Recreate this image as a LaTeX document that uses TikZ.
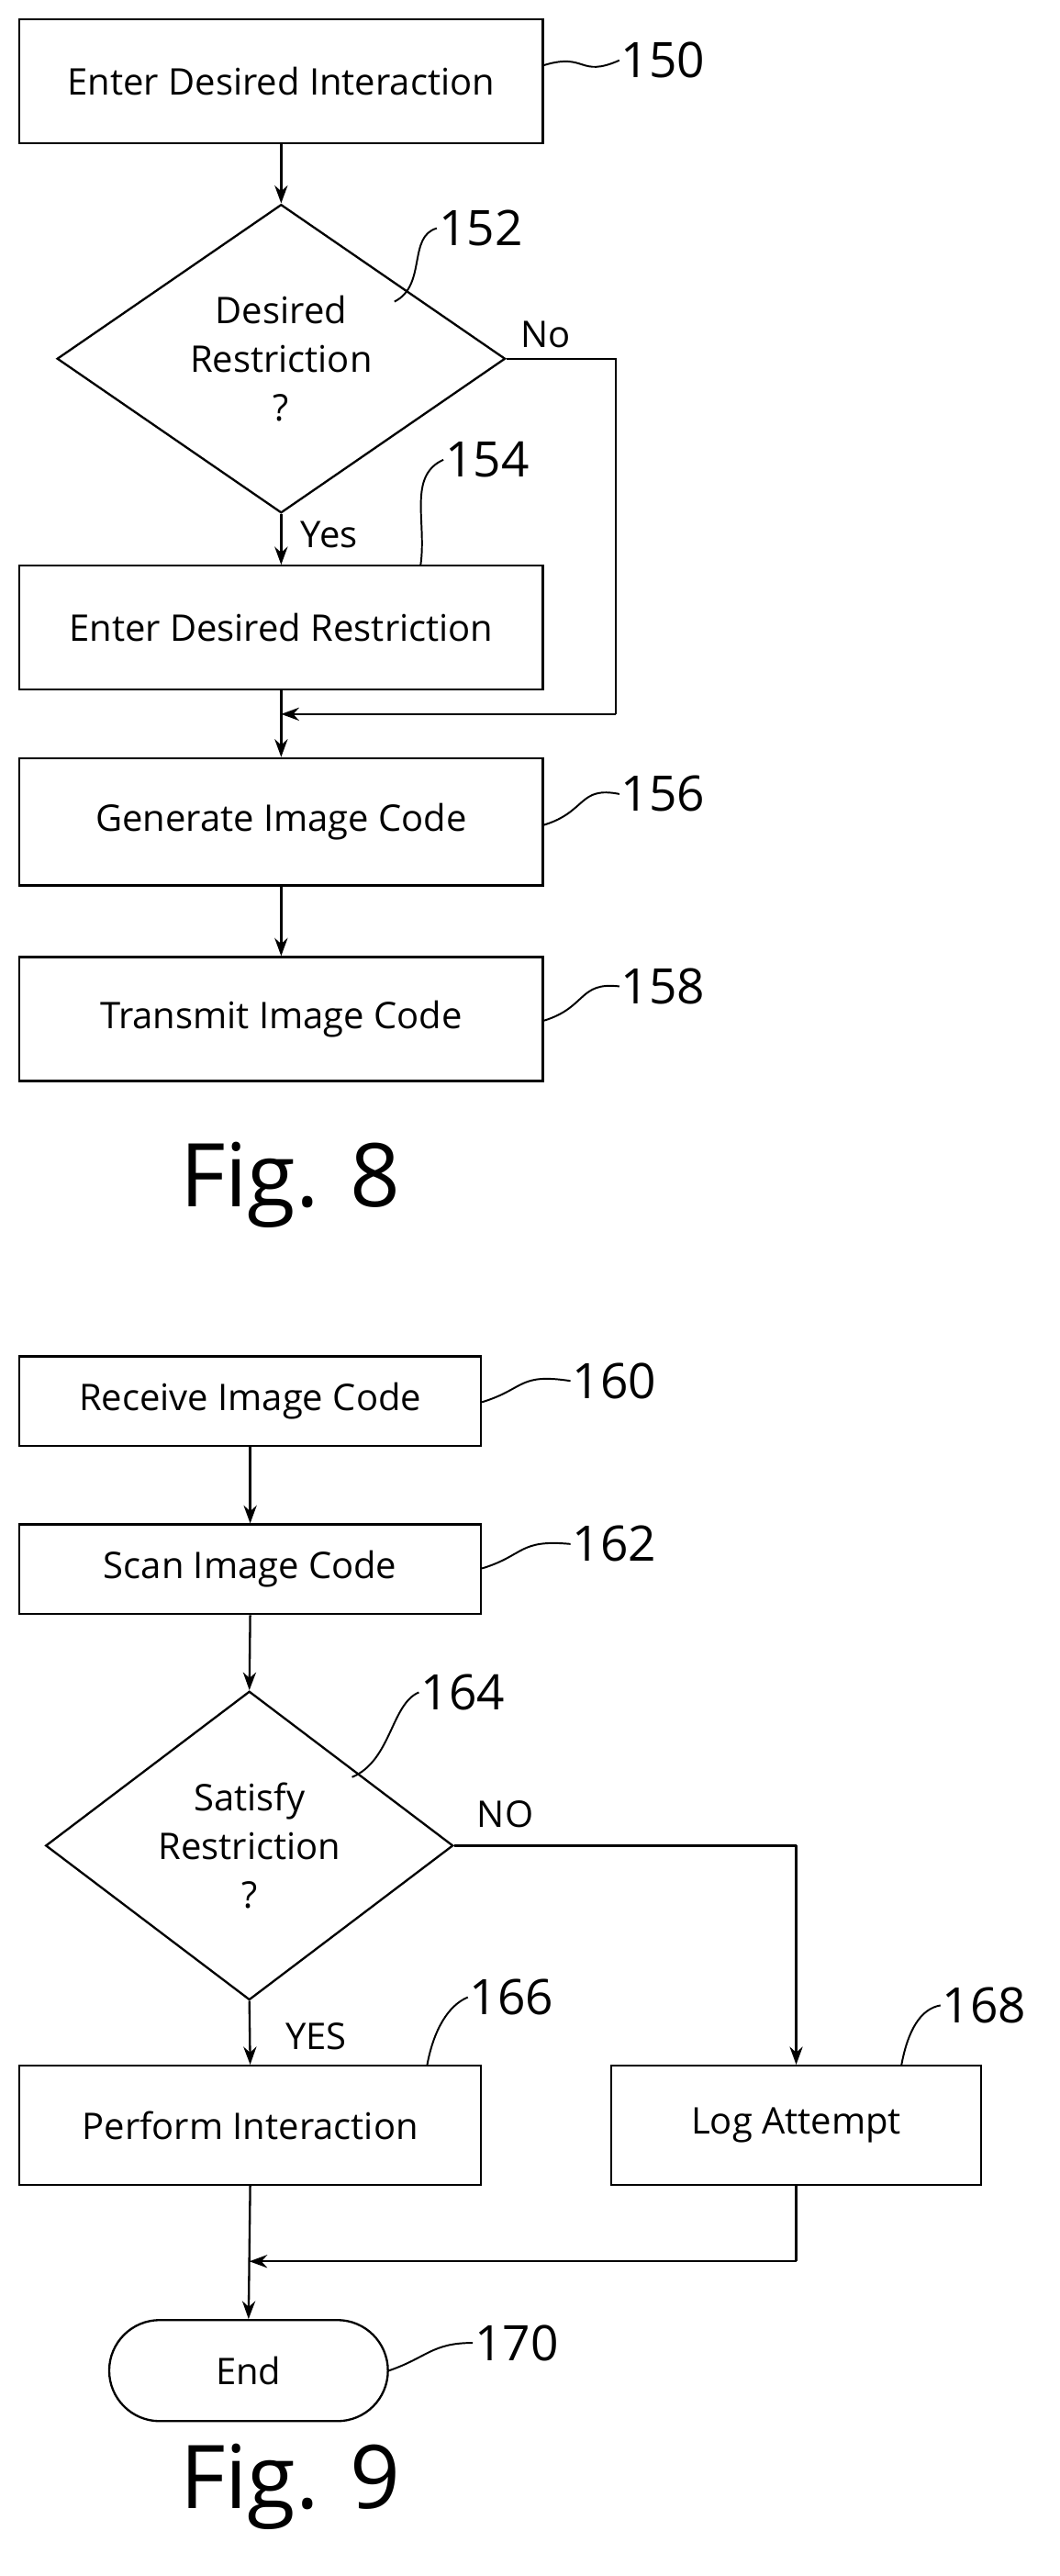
\documentclass[tikz,border=0pt]{standalone}
\usepackage{fontspec}
\setmainfont{Open Sans}
\usetikzlibrary{shapes.geometric,shapes.misc,arrows.meta}
\begin{document}
\begin{tikzpicture}[x=1pt,y=-1pt,
  every node/.style={font=\fontsize{22.5}{27}\selectfont},
  box/.style={draw,line width=1.3pt,inner sep=0pt},
  dia/.style={draw,line width=1.3pt,diamond,inner sep=0pt,align=center},
  line/.style={line width=1.3pt},
  arr/.style={line width=1.3pt,-{Stealth[length=11pt,width=8pt]}},
  lab/.style={font=\fontsize{30}{32}\selectfont,anchor=west,inner sep=1pt},
  sq/.style={line width=1.1pt},
  fig/.style={font=\fontsize{54}{58}\selectfont}]
\useasboundingbox (0,0) rectangle (650,1580);
% Fig 8
\node[box,minimum width=321pt,minimum height=76pt] (b150) at (172.5,50) {Enter Desired Interaction};
\node[dia,minimum width=275pt,minimum height=144pt] (d152) at (172.5,220) {Desired\\[3pt]Restriction\\[3pt]?};
\node[box,minimum width=321pt,minimum height=76pt] (b154) at (172.5,385) {Enter Desired Restriction};
\node[box,minimum width=321pt,minimum height=78pt] (b156) at (172.5,504) {Generate Image Code};
\node[box,minimum width=321pt,minimum height=76pt] (b158) at (172.5,625) {Transmit Image Code};
\coordinate (m8) at (172.5,438);
\coordinate (r8) at (378,220);
\coordinate (r8b) at (378,438);
\draw[arr] (b150.south) -- (d152.north);
\draw[arr] (d152.south) -- node[right=8pt,pos=0.4]{Yes} (b154.north);
\draw[arr] (b154.south) -- (b156.north);
\draw[arr] (b156.south) -- (b158.north);
\draw[line] (d152.east) -- (r8) -- (r8b);
\draw[arr] (r8b) -- (m8);
\node at (335,205) {No};
\node[lab] (l152) at (268,140) {152};
\node[lab] (l150) at (380,37) {150};
\node[lab] (l154) at (272,282) {154};
\node[lab] (l156) at (380,487) {156};
\node[lab] (l158) at (380,605) {158};
\draw[sq] (b150.east|-0,40) .. controls (360,32) and (355,48) .. (l150.west);
\draw[sq] (242,185) .. controls (262,175) and (250,145) .. (l152.west);
\draw[sq] (258,347) .. controls (262,320) and (250,292) .. (l154.west);
\draw[sq] (b156.east|-0,506) .. controls (360,498) and (355,482) .. (l156.west);
\draw[sq] (b158.east|-0,626) .. controls (360,618) and (355,602) .. (l158.west);
\node[fig] (f8) at (178,727) {Fig. 8};
% Fig 9
\node[box,minimum width=283pt,minimum height=55pt] (b160) at (153.5,859.5) {Receive Image Code};
\node[box,minimum width=283pt,minimum height=55pt] (b162) at (153.5,962.5) {Scan Image Code};
\node[dia,minimum width=250pt,minimum height=164pt] (d164) at (153,1132) {Satisfy\\[3pt]Restriction\\[3pt]?};
\node[box,minimum width=283pt,minimum height=73pt] (b166) at (153.5,1303.5) {Perform Interaction};
\node[box,minimum width=227pt,minimum height=73pt] (b168) at (488.5,1303.5) {Log Attempt};
\node[box,rounded rectangle,minimum width=171pt,minimum height=62pt] (e170) at (152.5,1454) {End};
\coordinate (r9) at (488.5,1132);
\coordinate (c9) at (488.5,1387);
\coordinate (m9) at (153,1387);
\draw[arr] (b160.south) -- (b162.north);
\draw[arr] (b162.south) -- (d164.north);
\draw[arr] (d164.south) -- node[right=18pt,pos=0.55]{YES} (b166.north);
\draw[line] (d164.east) -- (r9);
\draw[arr] (r9) -- (b168.north);
\draw[arr] (b166.south) -- (e170.north);
\draw[line] (b168.south) -- (c9);
\draw[arr] (c9) -- (m9);
\node at (310,1113) {NO};
\node[lab] (l160) at (350,847) {160};
\node[lab] (l162) at (350,947) {162};
\node[lab] (l164) at (257,1038) {164};
\node[lab] (l166) at (287,1225) {166};
\node[lab] (l168) at (577,1230) {168};
\node[lab] (l170) at (290,1437) {170};
\draw[sq] (b160.east|-0,860) .. controls (322,852) and (318,842) .. (l160.west);
\draw[sq] (b162.east|-0,962) .. controls (322,954) and (318,944) .. (l162.west);
\draw[sq] (216,1090) .. controls (240,1080) and (240,1045) .. (l164.west);
\draw[sq] (262,1267) .. controls (266,1245) and (275,1230) .. (l166.west);
\draw[sq] (553,1267) .. controls (557,1245) and (565,1232) .. (l168.west);
\draw[sq] (e170.east) .. controls (262,1446) and (265,1437) .. (l170.west);
\node[fig] (f9) at (178,1525) {Fig. 9};
\end{tikzpicture}
\end{document}
